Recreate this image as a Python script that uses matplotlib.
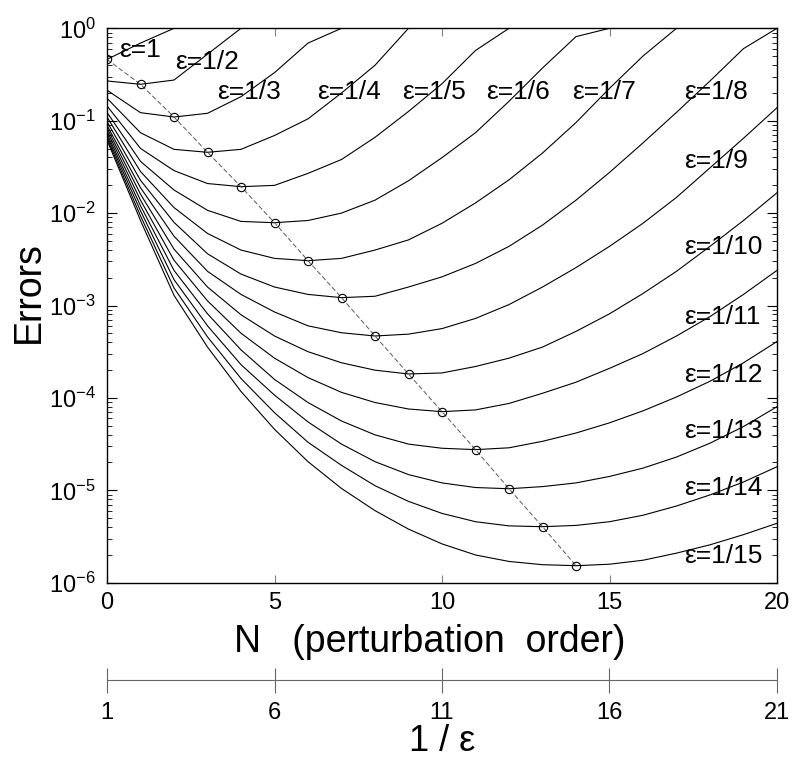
import numpy as np
import matplotlib
matplotlib.use("Agg")
import matplotlib.pyplot as plt
from matplotlib.ticker import LogLocator, LogFormatterMathtext, NullFormatter

plt.rcParams['font.family'] = ['Liberation Sans', 'DejaVu Sans']
plt.rcParams['mathtext.fontset'] = 'custom'
plt.rcParams['mathtext.rm'] = 'Liberation Sans'
plt.rcParams['axes.unicode_minus'] = False

N = np.arange(21)
eps1 = [-0.336, -0.16, 0, 0, 0, 0, 0, 0, 0, 0, 0, 0, 0, 0, 0, 0, 0, 0, 0, 0, 0]
eps2 = [-0.57, -0.606, -0.56, -0.28, 0, 0, 0, 0, 0, 0, 0, 0, 0, 0, 0, 0, 0, 0, 0, 0, 0]
eps3 = [-0.67, -0.913, -0.96, -0.92, -0.74, -0.48, -0.16, 0, 0, 0, 0, 0, 0, 0, 0, 0, 0, 0, 0, 0, 0]
eps4 = [-0.757, -1.13, -1.31, -1.342, -1.31, -1.16, -0.98, -0.70, -0.40, 0, 0, 0, 0, 0, 0, 0, 0, 0, 0, 0, 0]
eps5 = [-0.84, -1.30, -1.54, -1.68, -1.714, -1.70, -1.57, -1.42, -1.18, -0.90, -0.60, -0.24, 0, 0, 0, 0, 0, 0, 0, 0, 0]
eps6 = [-0.91, -1.44, -1.75, -1.97, -2.09, -2.104, -2.08, -2.00, -1.86, -1.65, -1.40, -1.13, -0.79, -0.43, -0.09, 0, 0, 0, 0, 0, 0]
eps7 = [-0.96, -1.55, -1.94, -2.22, -2.40, -2.49, -2.515, -2.49, -2.40, -2.29, -2.11, -1.89, -1.64, -1.35, -1.02, -0.65, -0.30, 0, 0, 0, 0]
eps8 = [-1.01, -1.645, -2.10, -2.44, -2.66, -2.80, -2.88, -2.915, -2.90, -2.80, -2.69, -2.545, -2.36, -2.13, -1.86, -1.56, -1.24, -0.91, -0.57, -0.22, 0]
eps9 = [-1.05, -1.725, -2.25, -2.63, -2.88, -3.07, -3.22, -3.295, -3.33, -3.31, -3.25, -3.14, -2.99, -2.80, -2.59, -2.36, -2.11, -1.83, -1.51, -1.19, -0.86]
eps10 = [-1.08, -1.795, -2.39, -2.80, -3.10, -3.33, -3.50, -3.62, -3.70, -3.741, -3.73, -3.66, -3.57, -3.45, -3.28, -3.09, -2.87, -2.63, -2.36, -2.08, -1.78]
eps11 = [-1.11, -1.86, -2.51, -2.95, -3.30, -3.57, -3.78, -3.94, -4.05, -4.12, -4.149, -4.13, -4.06, -3.95, -3.83, -3.68, -3.52, -3.33, -3.12, -2.88, -2.62]
eps12 = [-1.14, -1.92, -2.62, -3.09, -3.48, -3.80, -4.05, -4.25, -4.40, -4.50, -4.545, -4.56, -4.54, -4.47, -4.38, -4.27, -4.14, -3.99, -3.82, -3.62, -3.39]
eps13 = [-1.165, -1.975, -2.72, -3.22, -3.64, -3.97, -4.26, -4.50, -4.69, -4.83, -4.92, -4.97, -4.983, -4.96, -4.92, -4.85, -4.76, -4.64, -4.49, -4.31, -4.095]
eps14 = [-1.19, -2.03, -2.81, -3.34, -3.79, -4.16, -4.48, -4.73, -4.95, -5.12, -5.25, -5.34, -5.385, -5.394, -5.38, -5.34, -5.27, -5.17, -5.05, -4.91, -4.745]
eps15 = [-1.21, -2.08, -2.89, -3.45, -3.93, -4.34, -4.69, -4.98, -5.22, -5.42, -5.58, -5.70, -5.77, -5.805, -5.816, -5.80, -5.757, -5.68, -5.59, -5.48, -5.357]
curves = [eps1, eps2, eps3, eps4, eps5, eps6, eps7, eps8, eps9, eps10,
          eps11, eps12, eps13, eps14, eps15]
inv_eps = np.arange(1, 16)

labels = ["ε=1"] + ["ε=1/%d" % k for k in inv_eps[1:]]
# label anchor (x in N, y as log10 error)
label_pos = [(0.36, -0.235), (2.03, -0.365), (3.28, -0.69), (6.27, -0.69),
             (8.81, -0.69), (11.31, -0.69), (13.88, -0.69), (17.22, -0.69),
             (17.22, -1.436), (17.22, -2.367), (17.22, -3.125), (17.22, -3.752),
             (17.22, -4.358), (17.22, -4.975), (17.22, -5.71)]

fig = plt.figure(figsize=(7.95, 7.65), dpi=100)
ax = fig.add_axes([107 / 795, (765 - 582.7) / 765, 670 / 795, 554.4 / 765])

for c in curves:
    ax.plot(N, 10.0 ** np.array(c), color='black', lw=0.8)

# optimal truncation: minimum of each curve at N = 1/eps - 1
opt_N = inv_eps - 1
opt_err = np.array([10.0 ** curves[i][opt_N[i]] for i in range(len(curves))])
ax.plot(opt_N, opt_err, color='0.35', lw=0.7, dashes=(5, 2.5))
ax.plot(opt_N, opt_err, 'o', mfc='none', mec='black', ms=6, mew=0.8)

for txt, (x, y) in zip(labels, label_pos):
    ax.text(x, 10.0 ** y, txt, fontsize=19, ha='left', va='center')

ax.set_xlim(0, 20)
ax.set_yscale('log')
ax.set_ylim(1e-6, 1)
ax.set_xticks([0, 5, 10, 15, 20])
ax.yaxis.set_major_locator(LogLocator(base=10, numticks=10))
ax.yaxis.set_major_formatter(LogFormatterMathtext())
ax.yaxis.set_minor_locator(LogLocator(base=10, subs=np.arange(2, 10), numticks=20))
ax.yaxis.set_minor_formatter(NullFormatter())
ax.tick_params(which='both', direction='in', top=True, right=True)
ax.tick_params(axis='y', which='major', length=7, labelsize=17, pad=8)
ax.tick_params(axis='y', which='minor', length=3.5)
ax.tick_params(axis='x', length=6, labelsize=17, pad=7, color='0.5')
for s in ax.spines.values():
    s.set_linewidth(1.0)

ax.set_ylabel('Errors', fontsize=27)
ax.yaxis.set_label_coords(-0.09, 0.524)
ax.set_xlabel('N   (perturbation  order)', fontsize=27)
ax.xaxis.set_label_coords(0.482, -0.074)

sec = ax.secondary_xaxis(-0.175, functions=(lambda x: x + 1, lambda x: x - 1))
sec.set_xticks([1, 6, 11, 16, 21])
sec.tick_params(direction='inout', length=18, labelsize=17, pad=7, color='0.4')
sec.spines['bottom'].set_color('0.4')
sec.set_xlabel('1 / ε', fontsize=26, labelpad=0)

fig.savefig('out.png', dpi=100)
